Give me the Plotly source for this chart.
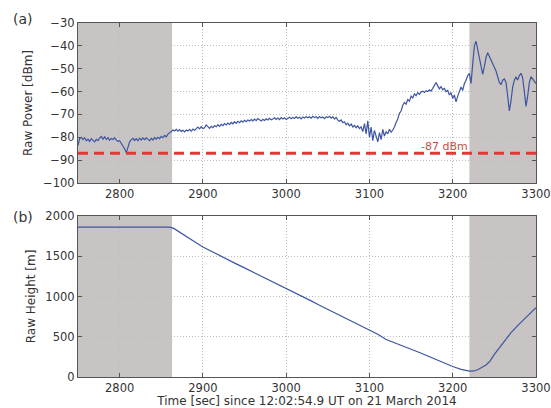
import plotly.graph_objects as go
from plotly.subplots import make_subplots

# ---------------- data ----------------
T0 = 2750          # first sample time of the power record [s]
DT = 2             # sample spacing [s]
power_dbm = [
    -83.5, -80.5, -80.0, -81.0, -80.2, -81.5, -80.8, -81.8, -80.6, -81.2,   # 2750
    -82.0, -80.9, -81.5, -80.3, -79.6, -80.8, -79.8, -80.9, -80.2, -81.3,   # 2770
    -80.5, -81.0, -80.2, -81.2, -81.8, -81.5, -82.5, -83.5, -85.0, -86.8,   # 2790
    -84.5, -82.0, -81.0, -80.5, -81.4, -80.6, -81.5, -80.4, -81.2, -80.3,   # 2810
    -81.0, -80.2, -80.9, -81.5, -80.5, -81.2, -80.1, -80.8, -80.0, -80.6,   # 2830
    -79.6, -80.2, -79.2, -79.8, -78.6, -78.2, -77.5, -76.8, -77.2, -76.5,   # 2850
    -77.3, -76.6, -77.4, -76.9, -77.6, -76.8, -77.2, -76.5, -77.3, -76.4,   # 2870
    -77.0, -76.2, -75.5, -76.3, -75.4, -76.2, -75.8, -74.6, -75.5, -76.1,   # 2890
    -75.2, -75.8, -74.9, -75.4, -74.5, -75.2, -74.3, -74.9, -74.0, -74.6,   # 2910
    -73.8, -74.4, -73.5, -74.1, -73.2, -73.9, -73.0, -73.6, -72.8, -73.4,   # 2930
    -72.6, -73.2, -72.4, -72.9, -72.2, -72.8, -72.0, -72.7, -71.8, -72.5,   # 2950
    -72.9, -72.1, -72.6, -71.9, -72.4, -71.7, -72.3, -72.0, -71.5, -72.2,   # 2970
    -71.6, -72.3, -71.4, -72.0, -71.5, -72.2, -71.8, -71.2, -71.9, -71.3,   # 2990
    -71.8, -71.0, -71.7, -71.2, -71.9, -71.1, -71.6, -70.9, -71.5, -71.0,   # 3010
    -71.6, -70.8, -71.4, -71.0, -71.7, -70.9, -71.5, -71.1, -71.8, -71.0,   # 3030
    -71.4, -70.8, -71.6, -71.0, -72.0, -71.3, -72.5, -73.0, -72.4, -73.6,   # 3050
    -73.2, -74.5, -73.8, -75.0, -74.2, -75.5, -74.8, -75.8, -75.0, -76.2,   # 3070
    -75.4, -77.5, -74.0, -78.5, -72.8, -80.0, -75.5, -81.5, -77.0, -79.5,   # 3090
    -82.0, -78.0, -81.0, -76.5, -79.5, -77.5, -78.5, -76.5, -77.8, -76.8,   # 3110
    -75.5, -73.5, -72.0, -69.5, -68.5, -66.0, -64.8, -65.5, -63.5, -64.2,   # 3130
    -62.0, -62.8, -61.0, -61.8, -60.5, -61.2, -60.2, -59.8, -60.4, -59.6,   # 3150
    -60.0, -59.2, -59.8, -58.6, -57.2, -56.0, -57.5, -58.8, -57.8, -59.2,   # 3170
    -58.6, -60.0, -59.5, -61.5, -60.5, -63.0, -61.5, -64.5, -62.0, -60.0,   # 3190
    -58.0, -59.5, -56.5, -55.0, -53.0, -52.0, -56.5, -48.0, -40.0, -38.0,   # 3210
    -42.0, -46.0, -50.0, -52.5, -49.0, -45.0, -43.0, -44.5, -46.0, -47.5,   # 3230
    -49.0, -51.0, -53.5, -56.0, -57.0, -55.0, -54.5, -56.0, -62.0, -68.5,   # 3250
    -64.0, -58.0, -55.0, -53.5, -55.0, -53.0, -52.0, -54.0, -60.0, -66.5,   # 3270
    -62.0, -56.0, -53.5, -54.5, -55.5, -56.5,                               # 3290
]
time_a = [T0 + DT * i for i in range(len(power_dbm))]

time_b = [2750, 2860, 2865, 2870, 2880, 2890, 2900, 2910, 2920, 2930, 2940,
          2950, 2960, 2970, 2980, 2990, 3000, 3010, 3020, 3030, 3040, 3050,
          3060, 3070, 3080, 3090, 3100, 3110, 3120, 3130, 3140, 3150, 3160,
          3170, 3180, 3190, 3200, 3210, 3220, 3225, 3230, 3240, 3245, 3250,
          3260, 3270, 3280, 3290, 3300]
height_m = [1860, 1860, 1845, 1810, 1745, 1680, 1615, 1560, 1505, 1455, 1405,
            1355, 1305, 1255, 1205, 1155, 1100, 1050, 995, 945, 890, 840,
            790, 740, 690, 640, 585, 530, 465, 425, 390, 350, 305,
            260, 215, 170, 130, 95, 72, 75, 90, 150, 200, 280,
            420, 550, 660, 760, 860]

threshold_dbm = -87
threshold_label = "-87 dBm"
shaded_spans = [(2750, 2863), (3220, 3300)]
x_range = [2750, 3300]
x_ticks = [2800, 2900, 3000, 3100, 3200, 3300]
y_ticks_a = [-30, -40, -50, -60, -70, -80, -90, -100]
y_ticks_b = [0, 500, 1000, 1500, 2000]

# ---------------- figure ----------------
FONT = "DejaVu Sans"
LINE = "#3d55a3"
SHADE = "#c8c4c3"
RED = "#e03a36"
TXT = "#333333"

fig = make_subplots(rows=2, cols=1, vertical_spacing=0.0)

fig.add_trace(go.Scatter(x=time_a, y=power_dbm, mode="lines",
                         line=dict(color=LINE, width=1.2), showlegend=False),
              row=1, col=1)
fig.add_trace(go.Scatter(x=time_b, y=height_m, mode="lines",
                         line=dict(color=LINE, width=1.2), showlegend=False),
              row=2, col=1)

fig.add_hline(y=threshold_dbm, line=dict(color=RED, width=3, dash="10px,6px"),
              row=1, col=1)
fig.add_annotation(x=3190, y=threshold_dbm + 2.8, xref="x", yref="y",
                   text=threshold_label, showarrow=False, yanchor="middle",
                   font=dict(family=FONT, size=11, color="#d24a48"))

for r in (1, 2):
    for x0, x1 in shaded_spans:
        fig.add_vrect(x0=x0, x1=x1, fillcolor=SHADE, opacity=1, line_width=0,
                      layer="below", row=r, col=1)

axis_common = dict(showline=True, mirror="ticks", linecolor="#555555", linewidth=1.2,
                   ticks="inside", ticklen=4, tickcolor="#555555",
                   showgrid=True, gridcolor="#bdbdbd", griddash="1px,2px", gridwidth=1,
                   zeroline=False, ticklabeloverflow="allow",
                   tickfont=dict(family=FONT, size=11.5, color=TXT))

fig.update_xaxes(range=x_range, tickvals=x_ticks, **axis_common)
fig.update_xaxes(title=dict(text="Time [sec] since 12:02:54.9 UT on 21 March 2014",
                            font=dict(family=FONT, size=12, color=TXT),
                            standoff=2), row=2, col=1)
fig.update_yaxes(range=[-100, -30], tickvals=y_ticks_a,
                 ticktext=[str(v).replace("-", "\u2212") for v in y_ticks_a],
                 title=dict(text="Raw Power [dBm]", standoff=7,
                            font=dict(family=FONT, size=12, color=TXT)),
                 row=1, col=1, **axis_common)
fig.update_yaxes(range=[0, 2000], tickvals=y_ticks_b,
                 title=dict(text="Raw Height [m]", standoff=7,
                            font=dict(family=FONT, size=12, color=TXT)),
                 row=2, col=1, **axis_common)

fig.update_layout(
    width=551, height=408,
    margin=dict(l=78, r=15, t=23, b=31),
    paper_bgcolor="white", plot_bgcolor="white",
    font=dict(family=FONT, size=12, color=TXT),
    xaxis=dict(domain=[0, 1]),
    yaxis=dict(domain=[0.548, 1.0]),
    yaxis2=dict(domain=[0.0, 0.455]),
)
fig.update_yaxes(automargin=False)
fig.update_xaxes(automargin=False)

for label, ypaper in (("(a)", 1.012), ("(b)", 0.452)):
    fig.add_annotation(x=-0.12, y=ypaper, xref="paper", yref="paper",
                       text=label, showarrow=False, xanchor="center", yanchor="middle",
                       font=dict(family=FONT, size=14, color=TXT))

fig.write_html("out.html", config={"displayModeBar": False},
               post_script="document.body.style.margin='0px';"
                           "document.body.style.overflow='hidden';")
